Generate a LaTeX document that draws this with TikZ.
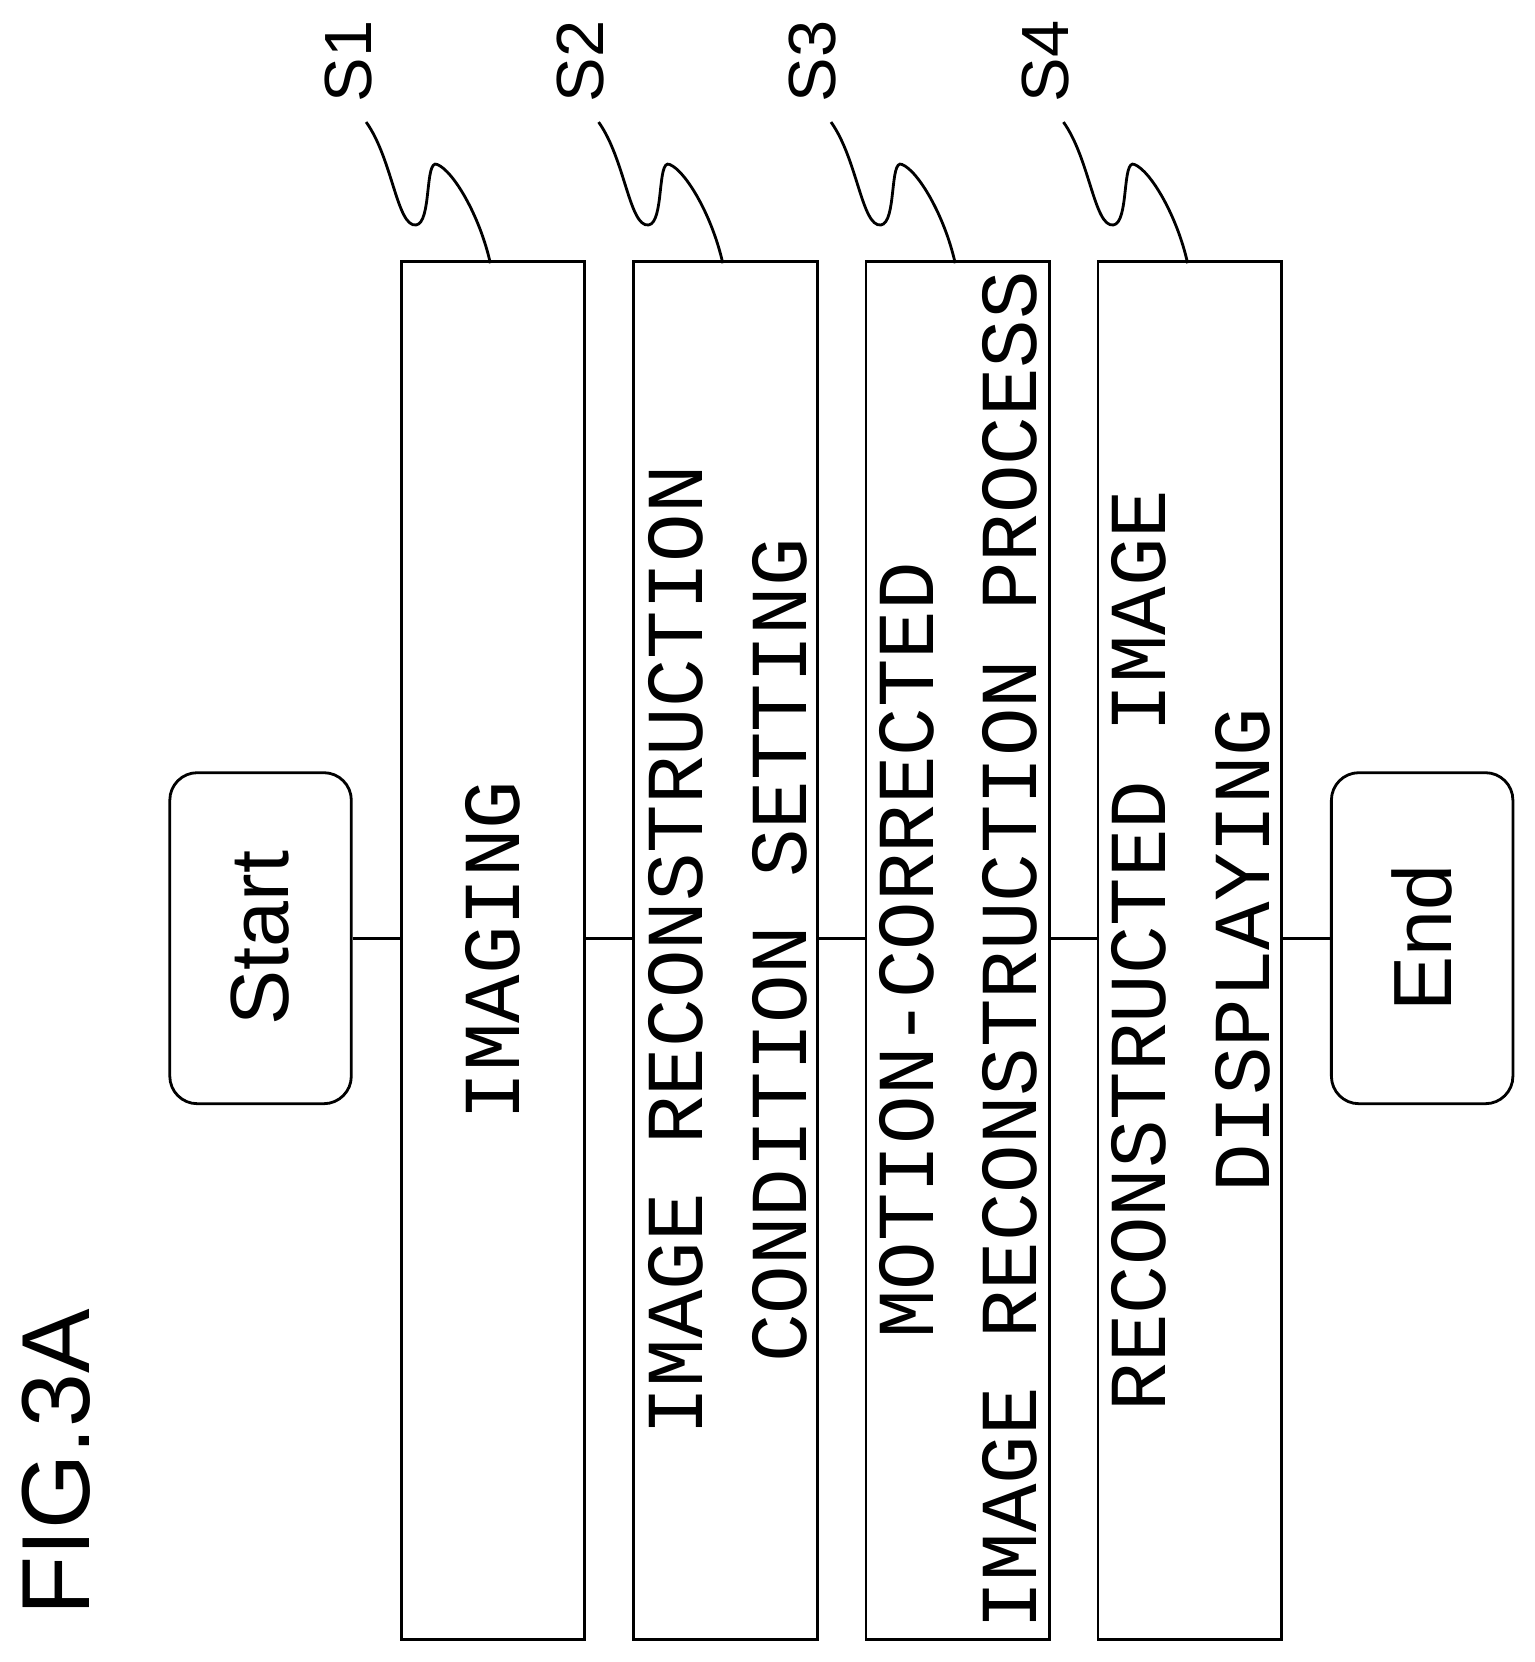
\documentclass[tikz,border=0pt]{standalone}
\usepackage{fontspec}
\setmainfont{Liberation Sans}
\newfontfamily\boxfont{Liberation Mono}
\usetikzlibrary{positioning}

\tikzset{
  step box/.style={draw, line width=1.6pt, minimum width=3.67cm, minimum height=27.56cm, inner sep=0pt},
  term box/.style={draw, line width=1.6pt, rounded corners=0.55cm, minimum width=3.63cm, minimum height=6.62cm, inner sep=0pt},
  step text/.style={rotate=90, align=center, font=\boxfont\fontsize{46}{59}\selectfont},
  term text/.style={rotate=90, font=\fontsize{47}{50}\selectfont},
  tag/.style={rotate=90, font=\fontsize{38}{40}\selectfont},
  wiggle/.style={line width=1.6pt}
}

\begin{document}
\begin{tikzpicture}[x=0.02122cm, y=-0.02122cm]
\useasboundingbox (0,0) rectangle (1446,1566);
% terminals
\node[term box] (start) at (245.5,884) {};
\node[term text] (starttext) at (start) {Start};
\node[term box] (end) at (1340,884) {};
\node[term text] (endtext) at (end) {End};
% process steps
\node[step box] (s1) at (464.5,895.5) {};
\node[step box] (s2) at (683.5,895.5) {};
\node[step box] (s3) at (902.5,895.5) {};
\node[step box] (s4) at (1121,895.5) {};
\node[step text] (t1) at (s1) {IMAGING};
\node[step text] (t2) at (686,895.5) {IMAGE RECONSTRUCTION\\CONDITION SETTING};
\node[step text] (t3) at (903,895.5) {MOTION-CORRECTED\\IMAGE RECONSTRUCTION PROCESS};
\node[step text] (t4) at (1122,895.5) {RECONSTRUCTED IMAGE\\DISPLAYING};
% connectors
\draw[line width=1.6pt] (start.east) -- (start.east -| s1.west);
\draw[line width=1.6pt] (s1.east |- start.east) -- (s2.west |- start.east);
\draw[line width=1.6pt] (s2.east |- start.east) -- (s3.west |- start.east);
\draw[line width=1.6pt] (s3.east |- start.east) -- (s4.west |- start.east);
\draw[line width=1.6pt] (s4.east |- start.east) -- (end.west);
% step tags
\foreach \n/\dx in {1/0,2/219,3/438,4/657}{
  \node[tag] (tag\n) at (328+\dx,58) {S\n};
  \coordinate (w\n) at (345+\dx,115);
  \draw[wiggle] (w\n) .. controls +(25,35) and +(-18,2) .. ++(47,97)
    .. controls +(15,-2) and +(-12,-6) .. ++(20,-57)
    .. controls +(15,6) and +(-10,-45) .. ++(50,93);
}
\node[rotate=90, font=\fontsize{55}{60}\selectfont] (fig) at (53,1378) {FIG.3A};
\end{tikzpicture}
\end{document}
